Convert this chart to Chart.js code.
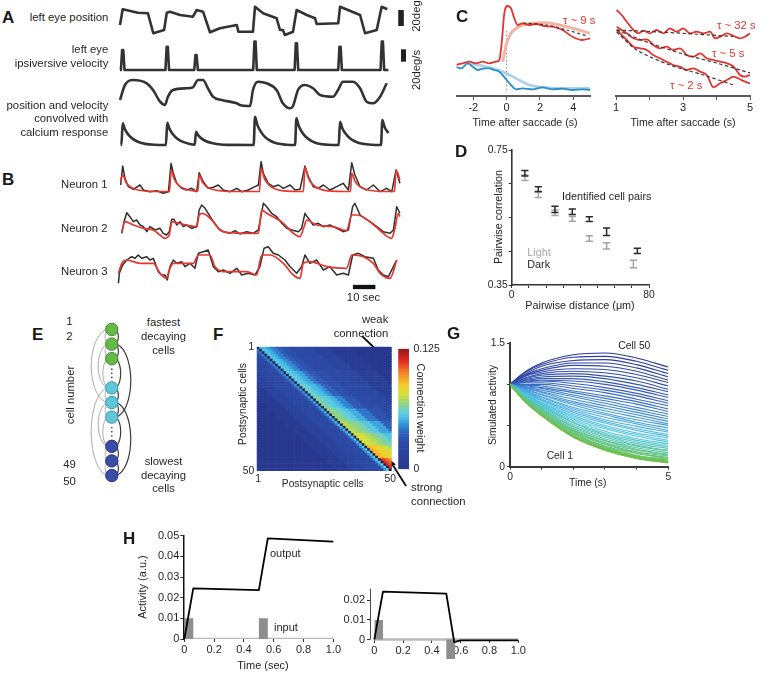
<!DOCTYPE html>
<html><head><meta charset="utf-8">
<script src="https://cdn.jsdelivr.net/npm/chart.js"></script>
<style>
html,body{margin:0;padding:0;background:#fff}
body{position:relative;width:772px;height:673px;overflow:hidden;font-family:"Liberation Sans",Arial,Helvetica,sans-serif;color:#231f20}
canvas{position:absolute;display:block}
.t{position:absolute;white-space:nowrap;line-height:1}
svg{position:absolute;left:0;top:0}
</style></head><body>
<svg width="772" height="673">
  <line x1="362" y1="336" x2="380.2" y2="353.5" stroke="#111" stroke-width="1.8"/>
  <polygon points="386,359 377.4,355.7 383,351.3" fill="#111"/>
  <line x1="406" y1="486" x2="393.3" y2="465.8" stroke="#111" stroke-width="1.8"/>
  <polygon points="389,459 395.8,464.2 390.7,467.4" fill="#111"/>
</svg>
<script>
// ---------------- DATA ----------------
// Panel A (time in s, eye position in deg, velocity in deg/s, convolved traces in a.u.)
const eyePos = [[0,18.75],[1.2,38.4],[8,34.1],[12.4,33.4],[14.8,8.4],[19.6,12.5],[20.8,34.1],[22.2,35.4],[26.7,31.25],[32.4,29.1],[34.1,37.5],[36.9,35.4],[40,9.6],[44.4,14.6],[51.9,18.75],[52.6,10.4],[59.1,10.4],[60,41.6],[63.6,33.4],[69.6,27.1],[71.1,12.5],[72.4,12.5],[73.3,6.25],[76.9,10.4],[78.5,37.5],[83,31.25],[86.7,27.1],[87.4,20],[97,20.9],[97.8,41.6],[106.7,31.25],[108.9,8.4],[114.1,12.5],[116.3,41.6],[118.8,38.4]];
const eyeVel = [[0,0],[0.4,0],[0.95,32.3],[1.45,32.3],[2,0],[20.2,0],[20.75,37.6],[21.25,37.6],[21.8,0],[33,0],[33.55,24.2],[34.05,24.2],[34.6,0],[59.2,0],[59.75,45.7],[60.25,45.7],[60.8,0],[77.6,0],[78.15,43],[78.65,43],[79.2,0],[97,0],[97.55,37.6],[98.05,37.6],[98.6,0],[115.8,0],[116.35,45.7],[116.85,45.7],[117.4,0],[119.3,0]];
const posConv = [[0,14],[2.2,29],[5.8,34],[11.9,30.7],[14.7,24],[17.8,12.3],[20,9],[21.3,17.3],[23.6,24],[29.6,25.7],[32.4,26.7],[34.7,34],[36.9,34],[39.1,25.7],[41.3,17.3],[45.2,14],[51.9,10.7],[53.3,9],[57.8,8],[59.1,24],[61.3,32.3],[65.2,30.7],[69.6,24],[72.4,10.7],[75.6,5.7],[76.9,8],[79.1,24],[82.2,29],[85.8,25.7],[88.9,19],[94.7,17.3],[96.9,24],[99.1,32.3],[103.6,32.3],[106.7,25.7],[109.6,12.3],[112.4,10.7],[115.6,17.3],[118.5,30.7]];
const velConv = [[0.3,0],[0.6,0],[1.2,21.7],[2.2,15.6],[3.7,10.4],[5.7,6.1],[8.2,3.0],[11.2,1.1],[15.2,0.2],[20.4,0],[21,22.3],[22,16.1],[23.5,10.7],[25.5,6.2],[28,3.1],[31,1.1],[33.2,0.4],[33.8,13.3],[34.8,9.6],[36.3,6.4],[38.3,3.7],[40.8,1.9],[43.8,0.7],[47.8,0.1],[59.4,0],[60,28.3],[61,20.4],[62.5,13.6],[64.5,7.9],[67,4],[70,1.4],[74,0.3],[77.8,0],[78.4,26.7],[79.4,19.2],[80.9,12.8],[82.9,7.5],[85.4,3.7],[88.4,1.3],[92.4,0.3],[97.2,0],[97.8,23.3],[98.8,16.8],[100.3,11.2],[102.3,6.5],[104.8,3.3],[107.8,1.2],[111.8,0.2],[116,0],[116.6,25],[117.6,18],[119.3,12]];
const posScaleBar = {t:124.9, from:17.5, len:20};   // 20 deg
const velScaleBar = {t:126, from:13.4, len:20};     // 20 deg/s
// Panel B (time in s, fluorescence a.u.)
const n1Data = [[0.3,13],[1.2,32],[2.2,19.7],[3.7,11.3],[5.9,8.7],[8.9,13],[10.4,8],[13.3,6.3],[16.3,7.3],[19.2,4.7],[21.5,6.3],[22.7,34.7],[23.7,24.7],[25.2,14.7],[27.4,9.7],[29.6,8],[31.9,9.7],[34.1,6.3],[35.2,25.3],[37,16.3],[39.2,9.7],[41.5,10.7],[43.7,13],[45.9,8],[48.9,6.3],[51.9,9.7],[54.1,6.3],[57,8],[60,11.3],[61.5,13],[62.7,36.3],[63.7,24.7],[65.9,14.7],[68.1,11.3],[70.4,13],[72.6,9.7],[75.6,13],[77.8,8],[80,8.7],[82.2,32],[83.7,21.3],[85.9,11.3],[88.1,9.7],[90.4,13],[93.3,8],[96.3,11.3],[99.2,14.7],[101.5,8],[103,35.3],[104.4,23],[106.7,11.3],[109.6,8],[112.6,13],[115.6,6.3],[118.5,9.7],[120.8,6.3],[122.7,28],[124.4,14.7]];
const n1Fit = [[0.2,17],[1.2,23],[2.7,15.5],[4.7,11],[7.2,8.5],[11,7],[16,6.5],[22,6.5],[22.7,28],[24.2,18.3],[26.2,12.5],[28.7,9.2],[32.7,7.2],[34.6,6.8],[35.2,23],[36.7,15.6],[38.7,11.1],[41.2,8.5],[45.2,7],[52,6.5],[62,6.5],[62.7,29.7],[64.2,19.3],[66.2,13],[68.7,9.3],[72.7,7.2],[81.5,6.5],[82.2,31],[83.7,20],[85.7,13.4],[88.2,9.4],[92.2,7.2],[102.4,6.5],[103,24.7],[104.5,16.5],[106.5,11.6],[109,8.7],[113,7],[122,6.5],[122.7,28],[124.4,18]];
const n2Data = [[0.8,10.7],[1.8,22.3],[3,31.3],[4.4,27.3],[5.9,22.3],[7.4,24],[8.9,19],[10.4,17.3],[11.9,12.3],[13.3,17.3],[15.6,14],[17.8,15.7],[19.2,10.7],[20.7,9],[21.9,12.3],[23,24.7],[24,24.7],[25.2,19],[26.7,22.3],[28.1,17.3],[29.6,19],[31.9,15.7],[34.1,17.3],[35.2,34],[36.3,39],[37.8,35.7],[39.2,30.7],[41.5,22.3],[43.7,15.7],[45.9,12.3],[48.9,10.7],[51.1,13.3],[53.3,10],[56.3,12.3],[59.2,10.7],[61.5,14],[63.7,40.7],[65.2,37.3],[67.4,30.7],[69.6,27.3],[71.9,20.7],[74.1,15.7],[76.3,14],[79.3,12.3],[80.7,15.7],[82.2,30.7],[83.7,25.7],[85.9,19],[88.1,20.7],[90.4,17.3],[93.3,19],[96.3,15.7],[99.2,12.3],[101.5,14],[103.4,37.3],[104.4,40.7],[106.7,29],[108.9,25.7],[111.1,22.3],[114.1,17.3],[117,12.3],[120,10.7],[121.5,14],[123,37.3],[124.4,30.7]];
const n2Fit = [[0.8,12.3],[2.2,22.3],[5.9,19],[10.4,15.7],[14.8,14],[17.8,9],[20,5.7],[21.9,9],[23,22.3],[25.2,21.3],[29.6,19],[34.1,17.3],[35.2,29],[36.7,30.7],[41.5,22.3],[44.4,14],[48.9,11.3],[56.3,10.7],[61.5,10.7],[63,34],[65.2,30.7],[72.6,20.7],[77,10.7],[80,7.3],[81.8,17.3],[83,24],[87.4,19],[94.8,17.3],[100.7,13.3],[103,29],[105.2,29],[111.1,22.3],[117,10.7],[120.7,5.7],[122.2,15.7],[123.7,30.7],[124.4,27.3]];
const n3Data = [[-0.7,6.7],[-0.3,16.7],[1.2,25],[3,30],[5.2,33.3],[6.7,31.7],[8.1,35],[9.6,31.7],[11.9,33.3],[13.3,30],[14.8,31.7],[17,18.3],[18.5,15],[20,15],[21,10],[22.2,23.3],[23.7,30],[25.2,26.7],[27.4,28.3],[28.9,23.3],[31.1,26.7],[33.3,21.7],[34.8,36.7],[37,38.3],[39.2,40],[41.5,23.3],[43.7,18.3],[45.9,20],[48.9,16.7],[51.9,21.7],[54.1,15],[57,16.7],[60,15],[62.2,23.3],[64,41.7],[65.9,43.3],[68.1,36.7],[70.4,35],[73.3,30],[75.6,23.3],[78.5,16.7],[80.7,23.3],[82.2,35],[84.4,26.7],[87.4,30],[90.4,20],[93.3,23.3],[96.3,15],[99.2,16.7],[101.5,15],[103.4,35],[105.9,36.7],[108.9,33.3],[112.6,31.7],[114.8,20],[117,15],[119.3,13.3],[121.5,23.3],[123,30]];
const n3Fit = [[-0.7,16.7],[0.8,26.7],[3,30],[8.9,26.7],[14.8,26.7],[17.8,16.7],[20.7,11.7],[21.9,20],[23.7,26.7],[32.6,26.7],[34.8,35],[40,35],[42.2,23.3],[47.4,18.3],[56.3,18.3],[60.7,15],[63,35],[66.7,35],[72.6,26.7],[77,15],[80,11.7],[81.5,26.7],[84.4,28.3],[91.9,23.3],[100.7,21.7],[103,35],[108.1,33.3],[112.6,26.7],[115.6,16.7],[120,11.7],[123,30]];
const timeScaleBar = {from:103.5, len:10, v:3};     // 10 sec
// Panel C (time after saccade in s, activity a.u.)
const cRed = [[-3.07,31],[-2.63,32.7],[-2.23,34.3],[-1.83,32.7],[-1.44,34.3],[-1.04,32.7],[-0.63,34.3],[-0.44,36],[-0.28,56],[-0.14,82.7],[0.06,90],[0.26,87.7],[0.46,77.7],[0.66,71],[0.96,72.7],[1.36,71],[1.76,72],[2.26,70],[2.75,69.3],[3.35,66],[3.95,59.3],[4.55,56],[5,57.7]];
const cPink = [[-0.24,34.3],[0,52.7],[0.26,62.7],[0.56,67.7],[0.96,71],[1.56,72.7],[2.36,73.3],[3.16,71],[3.95,67.7],[5,62.7]];
const cBlue = [[-3.07,29.3],[-2.73,27.7],[-2.33,32.7],[-2.03,29.3],[-1.73,26],[-1.33,27.7],[-1.04,27.7],[-0.74,26],[-0.44,24.3],[-0.08,17.7],[0.26,11],[0.56,6.7],[0.96,7.7],[1.56,6.7],[2.16,8.7],[2.75,6.7],[3.35,7.3],[3.95,6],[4.55,6.7],[5,6]];
const cLightBlue = [[-2.23,32.7],[-1.24,29.3],[-0.24,24.3],[0.56,17.7],[1.36,11],[2.16,8.7],[3.16,7.7],[5,7.7]];
const cFit9 = [[1,73],[2.4,71],[3.6,66],[4.85,60]];
const cSaccade = [[0,6],[0,66]];
const cTau32 = [[1.02,86],[1.17,81],[1.32,74.3],[1.52,66],[1.67,62.7],[1.82,65.3],[2.01,62.7],[2.21,66],[2.41,62.7],[2.61,67.7],[2.81,64.3],[3.01,67.7],[3.21,62.7],[3.41,64.3],[3.61,62.7],[3.81,64.3],[3.96,57.7],[4.11,59.3],[4.31,62.7],[4.51,60],[4.7,57.7],[4.85,59.3],[5,62.7]];
const cTau5 = [[1.02,69.3],[1.17,66],[1.32,62.7],[1.52,57.7],[1.72,56],[1.92,56.7],[2.11,51],[2.31,47.7],[2.51,49.3],[2.71,46],[2.91,47.7],[3.11,41],[3.31,39.3],[3.51,42.7],[3.71,37.7],[3.91,36],[4.11,34.3],[4.31,32.7],[4.51,29.3],[4.7,21],[4.85,19.3],[5,21]];
const cTau2 = [[1.02,66],[1.17,61],[1.32,56],[1.52,49.3],[1.72,47.7],[1.92,46],[2.11,41],[2.31,37.7],[2.51,34.3],[2.71,31],[2.91,29.3],[3.11,26],[3.31,27.7],[3.51,24.3],[3.71,21],[3.91,8.7],[4.11,12.7],[4.31,16],[4.51,19.3],[4.7,16.7],[4.85,14.3],[5,12.7]];
const cFit32 = [[1.02,66],[2,64.5],[3,62.7],[4.5,59.5]];
const cFit5 = [[1.02,66],[2,53],[3,42],[4,33],[5,23]];
const cFit2 = [[1.02,64],[1.62,46],[2.61,31],[3.61,21],[4.51,11]];
const cLeftTicks = [-2,0,2,4];
const cRightTicks = [1,2,3,4,5];
// Panel D (pairwise distance um, correlation)
const dDistDark = [7.7,15.5,25.2,35.3,45.2,55.3,73.2];
const dDark = [0.681,0.634,0.574,0.567,0.545,0.508,0.451];
const dDarkErr = [0.008,0.007,0.009,0.008,0.007,0.011,0.008];
const dDistLight = [7.7,15.5,25.2,35.3,45.2,55.3,70.9];
const dLight = [0.668,0.617,0.564,0.546,0.488,0.466,0.412];
const dLightErr = [0.008,0.008,0.008,0.007,0.008,0.009,0.011];
const dYTicks = [0.35,0.45,0.55,0.65,0.75];
const dXTicks = [0,10,20,30,40,50,60,70,80];
// Panel E (network diagram: node slots, arcs [from slot, to slot, bulge])
const eNodeSlot = [0,1,2,4,5,6,8,9,10];
const eNodeGroup = [0,0,0,1,1,1,2,2,2];
const eDotSlot = [3,7];
const eArcLeft = [[0,1,5],[1,2,5],[2,4,8],[4,5,5],[5,6,5],[6,8,8],[8,9,5],[9,10,5],[1,4,14],[5,8,14],[0,5,23],[4,10,23]];
const eArcRight = [[0,1,5],[1,2,5],[2,4,8],[4,5,5],[5,6,5],[6,8,8],[8,9,5],[9,10,5],[1,6,21],[5,10,21]];
// Panel F (connection weights as fraction of 0.125; rows in groups of 5)
const fUpperEdges = [1,2,3,4,6,8,11,15,20,26,34,99];
const fUpper = [
 [.44,.43,.41,.38,.34,.28,.24,.22,.20,.14,.04,0],
 [.45,.44,.42,.40,.36,.30,.25,.22,.21,.16,.06,0],
 [.47,.46,.44,.42,.39,.33,.27,.23,.21,.18,.08,0],
 [.49,.48,.46,.44,.42,.37,.30,.24,.22,.19,.10,.02],
 [.52,.51,.49,.47,.45,.41,.35,.27,.23,.20,.12,.03],
 [.55,.54,.53,.51,.48,.45,.40,.33,.25,.21,.14,.04],
 [.59,.58,.57,.55,.53,.50,.45,.39,.30,.22,.15,.05],
 [.64,.63,.62,.60,.58,.55,.50,.44,.35,.25,.15,.05],
 [.73,.72,.70,.68,.65,.61,.56,.50,.40,.30,.20,.10],
 [.90,.87,.83,.79,.74,.70,.65,.58,.50,.40,.30,.20]];
const fLowerEdges = [1,2,5,9,14,20,99];
const fLower = [
 [.34,.26,.20,.18,.12,.04,0],
 [.35,.27,.20,.18,.12,.04,0],
 [.36,.28,.20,.18,.13,.04,0],
 [.38,.29,.21,.19,.13,.05,0],
 [.39,.30,.21,.19,.13,.05,0],
 [.40,.31,.21,.19,.14,.05,0],
 [.42,.32,.22,.20,.14,.05,0],
 [.43,.33,.22,.20,.14,.06,0],
 [.45,.35,.22,.20,.15,.06,0],
 [.47,.36,.22,.20,.15,.06,0]];
const fMaxWeight = 0.125;
// Panel G (simulated activity of 50 cells)
const gTime = [0,0.5,1,2,3,4,5];
const gCells = [
[1,0.78,0.62,0.36,0.20,0.10,0.05],[1,0.78,0.62,0.36,0.20,0.10,0.05],[1,0.78,0.62,0.36,0.21,0.11,0.05],[1,0.78,0.63,0.37,0.21,0.11,0.06],[1,0.79,0.63,0.37,0.22,0.12,0.06],
[1,0.79,0.63,0.38,0.22,0.13,0.07],[1,0.79,0.64,0.39,0.23,0.13,0.08],[1,0.79,0.64,0.40,0.24,0.14,0.09],[1,0.80,0.65,0.41,0.25,0.16,0.10],[1,0.80,0.66,0.42,0.27,0.17,0.11],
[1,0.81,0.66,0.43,0.28,0.18,0.13],[1,0.81,0.67,0.44,0.29,0.20,0.14],[1,0.81,0.68,0.45,0.31,0.21,0.15],[1,0.82,0.69,0.46,0.32,0.23,0.17],[1,0.83,0.70,0.48,0.34,0.25,0.19],
[1,0.83,0.71,0.49,0.36,0.26,0.20],[1,0.84,0.72,0.51,0.38,0.28,0.22],[1,0.84,0.73,0.53,0.39,0.30,0.24],[1,0.85,0.74,0.54,0.41,0.32,0.26],[1,0.86,0.75,0.56,0.43,0.34,0.28],
[1,0.86,0.76,0.58,0.46,0.37,0.30],[1,0.87,0.77,0.60,0.48,0.39,0.32],[1,0.88,0.78,0.62,0.50,0.41,0.35],[1,0.89,0.80,0.64,0.53,0.44,0.37],[1,0.89,0.81,0.66,0.55,0.46,0.39],
[1,0.90,0.82,0.68,0.57,0.49,0.42],[1,0.91,0.84,0.70,0.60,0.52,0.44],[1,0.92,0.85,0.72,0.63,0.54,0.47],[1,0.93,0.87,0.75,0.65,0.57,0.50],[1,0.94,0.88,0.77,0.68,0.60,0.52],
[1,0.95,0.90,0.79,0.71,0.63,0.55],[1,0.95,0.91,0.82,0.74,0.66,0.58],[1,0.96,0.93,0.85,0.77,0.69,0.61],[1,0.97,0.95,0.87,0.80,0.72,0.64],[1,0.98,0.96,0.90,0.83,0.76,0.67],
[1,0.99,0.98,0.92,0.86,0.79,0.70],[1,1.00,1.00,0.95,0.90,0.82,0.74],[1,1.02,1.02,0.98,0.93,0.86,0.77],[1,1.03,1.04,1.01,0.96,0.89,0.80],[1,1.04,1.05,1.04,1.00,0.93,0.84],
[1,1.05,1.07,1.07,1.03,0.96,0.87],[1,1.06,1.09,1.10,1.07,1.00,0.91],[1,1.07,1.11,1.13,1.10,1.04,0.94],[1,1.08,1.13,1.16,1.14,1.08,0.98],[1,1.10,1.15,1.19,1.18,1.12,1.02],
[1,1.11,1.17,1.23,1.22,1.16,1.05],[1,1.12,1.19,1.26,1.26,1.20,1.09],[1,1.13,1.22,1.29,1.30,1.24,1.13],[1,1.15,1.24,1.33,1.34,1.28,1.17],[1,1.16,1.26,1.36,1.38,1.32,1.21]];
const gXTicks = [0,1,2,3,4,5];
const gYTicks = [0,0.5,1,1.5];
// Panel H (time in sec, activity a.u.)
const hOutLeft = [[0,0],[0.06,0.0245],[0.5,0.0237],[0.56,0.0487],[1.0,0.0471]];
const hOutRight = [[0,0],[0.06,0.0245],[0.5,0.0234],[0.555,-0.0013],[0.6,-0.0004],[1.0,-0.0004]];
const hInLeft = [[0,0],[0,0.01],[0.06,0.01],[0.06,0],[0.5,0],[0.5,0.01],[0.56,0.01],[0.56,0],[1.0,0]];
const hInRight = [[0,0],[0,0.01],[0.06,0.01],[0.06,0],[0.5,0],[0.5,-0.01],[0.56,-0.01],[0.56,0],[1.0,0]];
const hBaseline = [[0,0],[1.0,0]];
const hRightYAxisRange = [0, 0.026];
const hXTicks = [0,0.2,0.4,0.6,0.8,1.0];
const hYTicksLeft = [0,0.01,0.02,0.03,0.04,0.05];
const hYTicksRight = [0,0.01,0.02];

// ---------------- HELPERS ----------------
Chart.defaults.font.family = '"Liberation Sans", Arial, sans-serif';
Chart.defaults.color = '#231f20';
Chart.defaults.animation = false;
Chart.defaults.plugins.legend.display = false;
Chart.defaults.plugins.tooltip.enabled = false;
Chart.defaults.elements.point.radius = 0;
Chart.defaults.elements.line.borderJoinStyle = 'round';

const xy = a => a.map(p => ({x: p[0], y: p[1]}));
function mk(L, T, W, H, cfg) {
  const c = document.createElement('canvas');
  c.width = W; c.height = H;
  c.style.left = L + 'px'; c.style.top = T + 'px';
  c.style.width = W + 'px'; c.style.height = H + 'px';
  document.body.appendChild(c);
  cfg.options = Object.assign({responsive: false, maintainAspectRatio: false, devicePixelRatio: 1, animation: false, events: []}, cfg.options || {});
  return new Chart(c, cfg);
}
function ds(data, color, width, extra) {
  return Object.assign({data: xy(data), borderColor: color, borderWidth: width, pointRadius: 0, fill: false, tension: 0}, extra || {});
}
const smooth = {cubicInterpolationMode: 'monotone'};
function plainLine(L, T, W, H, xr, yr, datasets) {
  return mk(L, T, W, H, {type: 'line', data: {datasets}, options: {
    layout: {padding: 0},
    scales: {x: {type: 'linear', display: false, min: xr[0], max: xr[1]}, y: {type: 'linear', display: false, min: yr[0], max: yr[1]}}
  }});
}
function lin(o) {
  const labels = o.labels || {};
  return {
    type: 'linear', display: true, position: o.pos, min: o.min, max: o.max,
    afterBuildTicks: a => { a.ticks = o.ticks.map(v => ({value: v})); },
    afterFit: a => { if (a.isHorizontal()) a.height = o.size; else a.width = o.size; },
    grid: {display: o.tl > 0, drawOnChartArea: false, drawTicks: o.tl > 0, tickLength: o.tl, tickWidth: o.tw || 1, tickColor: o.tc || '#333', color: o.tc || '#333'},
    border: {display: (o.bw || 0) > 0, color: o.bc || '#333', width: o.bw || 1},
    ticks: {padding: o.pad, color: '#231f20', font: {size: o.fs}, maxRotation: 0, autoSkip: false,
      callback: v => (labels[v] !== undefined ? labels[v] : '')}
  };
}
function lerpStops(stops, f) {
  f = Math.max(0, Math.min(1, f));
  for (let i = 1; i < stops.length; i++) {
    if (f <= stops[i][0]) {
      const [f0, c0] = stops[i - 1], [f1, c1] = stops[i];
      const u = (f - f0) / (f1 - f0);
      return 'rgb(' + c0.map((c, k) => Math.round(c + (c1[k] - c) * u)).join(',') + ')';
    }
  }
  return 'rgb(' + stops[stops.length - 1][1].join(',') + ')';
}
function txt(s, x, y, o) {
  o = o || {};
  const d = document.createElement('div');
  d.className = 't'; d.textContent = s;
  d.style.fontSize = (o.fs || 11.3) + 'px';
  d.style.left = x + 'px'; d.style.top = y + 'px';
  const ax = o.a === 'r' ? '-100%' : o.a === 'c' ? '-50%' : '0';
  d.style.transform = o.rot ? `translate(-50%,-50%) rotate(${o.rot}deg)` : `translate(${ax},-50%)`;
  if (o.color) d.style.color = o.color;
  if (o.bold) d.style.fontWeight = 'bold';
  document.body.appendChild(d);
}

// ---------------- PANEL A ----------------
const XAB = [-2.222, 131.111];
const traceCol = '#333';
const vbar = b => [[b.t, b.from], [b.t, b.from + b.len]];
plainLine(115, 0, 300, 40, XAB, [0, 50], [
  ds(eyePos, traceCol, 2.6),
  ds(vbar(posScaleBar), '#222', 5.6, {borderCapStyle: 'butt'})
]);
plainLine(115, 36, 300, 38, XAB, [-6.45, 54.84], [
  ds(eyeVel, traceCol, 2.6),
  ds(vbar(velScaleBar), '#222', 5, {borderCapStyle: 'butt'})
]);
plainLine(115, 74, 300, 40, XAB, [0, 40], [ds(posConv, traceCol, 2.6, smooth)]);
plainLine(115, 112, 300, 38, XAB, [-5, 33], [ds(velConv, traceCol, 2.6, smooth)]);

// ---------------- PANEL B ----------------
const redB = '#e8352d', blackB = '#2e2e2e';
plainLine(115, 158, 300, 40, XAB, [0, 40], [ds(n1Fit, redB, 1.7, smooth), ds(n1Data, blackB, 1.5)]);
plainLine(115, 200, 300, 44, XAB, [0, 44], [ds(n2Fit, redB, 1.7, smooth), ds(n2Data, blackB, 1.5)]);
plainLine(115, 243, 300, 49, XAB, [-2, 47], [
  ds(n3Fit, redB, 1.7, smooth), ds(n3Data, blackB, 1.5),
  ds([[timeScaleBar.from, timeScaleBar.v], [timeScaleBar.from + timeScaleBar.len, timeScaleBar.v]], '#111', 4.3, {borderCapStyle: 'butt'})
]);

// ---------------- PANEL C ----------------
const cAxisX = (min, max, ticks, labels) => lin({pos: 'bottom', min, max, ticks, labels, size: 32, tl: 4, pad: 1.4, fs: 11, bw: 2, bc: '#5a5a5a', tc: '#5a5a5a'});
const redC = '#e2342e';
mk(446, 0, 154, 128, {type: 'line', data: {datasets: [
  ds(cFit9, '#3a3a3a', 1.2, {borderDash: [3, 2.5], tension: 0.3}),
  ds(cRed, redC, 1.8, smooth),
  ds(cPink, '#f2b5a4', 3, smooth),
  ds(cBlue, '#2a8ecb', 1.8, smooth),
  ds(cLightBlue, '#abd0e8', 2.6, smooth),
  ds(cSaccade, '#777', 1, {borderDash: [1.2, 2.4]})
]}, options: {
  layout: {padding: {left: 10.6, right: 10, top: 0, bottom: 0}},
  scales: {x: cAxisX(-3, 5, cLeftTicks, {'-2': '-2', 0: '0', 2: '2', 4: '4'}), y: {type: 'linear', display: false, min: 0, max: 96}}
}});
mk(606, 0, 160, 128, {type: 'line', data: {datasets: [
  ds(cFit32, '#3a3a3a', 1.2, {borderDash: [3.5, 2.5], tension: 0.3}),
  ds(cFit5, '#3a3a3a', 1.2, {borderDash: [3.5, 2.5], tension: 0.3}),
  ds(cFit2, '#3a3a3a', 1.2, {borderDash: [3.5, 2.5], tension: 0.3}),
  ds(cTau32, redC, 1.8, smooth),
  ds(cTau5, redC, 1.8, smooth),
  ds(cTau2, redC, 1.8, smooth)
]}, options: {
  layout: {padding: {left: 10, right: 16, top: 0, bottom: 0}},
  scales: {x: cAxisX(1, 5, cRightTicks, {1: '1', 3: '3', 5: '5'}), y: {type: 'linear', display: false, min: 0, max: 96}}
}});

// ---------------- PANEL D ----------------
function errData(xs, m, e) {
  const out = [];
  xs.forEach((x, i) => { out.push({x, y: m[i] - e[i]}, {x, y: m[i] + e[i]}, {x, y: null}); });
  return out;
}
const errDs = (xs, m, e, col) => ({data: errData(xs, m, e), showLine: true, spanGaps: false, borderColor: col, borderWidth: 1.5,
  pointStyle: 'line', pointRadius: 3.6, pointBorderColor: col, pointBorderWidth: 1.5, pointBackgroundColor: col});
mk(470, 138, 190, 180, {type: 'scatter', data: {datasets: [
  errDs(dDistDark, dDark, dDarkErr, '#2a2a2a'),
  errDs(dDistLight, dLight, dLightErr, '#a3a3a3')
]}, options: {
  layout: {padding: {left: 11.7, top: 12, right: 11, bottom: 0}},
  scales: {
    x: lin({pos: 'bottom', min: 0, max: 80, ticks: dXTicks, labels: {0: '0', 80: '80'}, size: 33, tl: 3, pad: 1, fs: 10.3, bw: 1.6, bc: '#333'}),
    y: lin({pos: 'left', min: 0.35, max: 0.75, ticks: dYTicks, labels: {0.35: '0.35', 0.75: '0.75'}, size: 30, tl: 3, pad: 1, fs: 10.3, bw: 1.6, bc: '#333'})
  }
}});

// ---------------- PANEL E ----------------
const eFill = ['#63ba47', '#5fc6d9', '#3b4ca7'];
const eEdge = ['#3f8a2f', '#3a97aa', '#263382'];
function arcPoints(a, b, bulge, side) {
  const pts = [];
  for (let i = 0; i <= 12; i++) {
    const th = Math.PI * i / 12;
    pts.push({x: side * (3.5 + bulge * Math.sin(th)), y: a + (b - a) * (1 - Math.cos(th)) / 2});
  }
  return pts;
}
const eDatasets = [{
  data: eNodeSlot.map(s => ({x: 0, y: s})), pointRadius: 6.2, pointBorderWidth: 1,
  pointBackgroundColor: eNodeGroup.map(g => eFill[g]), pointBorderColor: eNodeGroup.map(g => eEdge[g])
}, {
  data: eDotSlot.flatMap(s => [{x: 0, y: s - 0.28}, {x: 0, y: s}, {x: 0, y: s + 0.28}]),
  pointRadius: 0.9, pointBackgroundColor: '#555', pointBorderWidth: 0
}];
eArcRight.forEach(([a, b, w]) => eDatasets.push({data: arcPoints(a, b, w, 1), showLine: true, borderColor: '#3c3c3c', borderWidth: 1.2, pointRadius: 0, tension: 0.4}));
eArcLeft.forEach(([a, b, w]) => eDatasets.push({data: arcPoints(a, b, w, -1), showLine: true, borderColor: '#a8a8a8', borderWidth: 1, pointRadius: 0, tension: 0.4}));
mk(80, 310, 64, 185, {type: 'scatter', data: {datasets: eDatasets}, options: {
  layout: {padding: 0},
  scales: {x: {type: 'linear', display: false, min: -31.7, max: 32.3}, y: {type: 'linear', display: false, min: -0.84, max: 10.84, reverse: true}}
}});

// ---------------- PANEL F ----------------
const hmStops = [[0,[40,56,142]],[0.22,[44,74,165]],[0.30,[48,98,188]],[0.36,[52,140,214]],[0.42,[70,188,230]],[0.47,[100,206,225]],[0.55,[150,214,120]],[0.62,[214,226,60]],[0.70,[248,200,40]],[0.80,[242,130,40]],[0.90,[226,40,36]],[1,[140,26,26]]];
const diagColor = 'rgb(26,32,78)';
function bucketOf(edges, off) { for (let i = 0; i < edges.length; i++) if (off <= edges[i]) return i; return edges.length - 1; }
function cellFraction(r, c) {
  const g = Math.floor((r - 1) / 5), off = c - r;
  if (off === 0) return null;
  return off > 0 ? fUpper[g][bucketOf(fUpperEdges, off)] : fLower[g][bucketOf(fLowerEdges, -off)];
}
const fCols = Array.from({length: 50}, (_, i) => String(i + 1));
const fDatasets = [];
for (let k = 0; k < 50; k++) {
  const r = 50 - k;
  fDatasets.push({data: fCols.map(() => 1), backgroundColor: fCols.map((_, ci) => {
    const f = cellFraction(r, ci + 1);
    return f === null ? diagColor : lerpStops(hmStops, f);
  }), borderWidth: 0, barPercentage: 1, categoryPercentage: 1});
}
mk(236, 338, 168, 150, {type: 'bar', data: {labels: fCols, datasets: fDatasets}, options: {
  layout: {padding: {left: 2.7, top: 7.7, right: 12.3, bottom: 0}},
  scales: {
    x: {type: 'category', stacked: true, afterFit: a => { a.height = 17; }, grid: {display: false, drawTicks: false}, border: {display: false},
        ticks: {padding: 1.5, autoSkip: false, maxRotation: 0, font: {size: 10.3}, color: '#231f20', callback: (v, i) => (i === 0 ? '1' : i === 49 ? '50' : '')}},
    y: Object.assign(lin({pos: 'left', min: 0, max: 50, ticks: [0, 50], labels: {50: '1', 0: '50'}, size: 18, tl: 0, pad: 2.5, fs: 10.3, bw: 0}), {stacked: true})
  }
}});
// colour bar
const cbN = 64, cbDatasets = [];
for (let i = 0; i < cbN; i++) cbDatasets.push({data: [fMaxWeight / cbN], backgroundColor: lerpStops(hmStops, (i + 0.5) / cbN), borderWidth: 0, barPercentage: 1, categoryPercentage: 1});
mk(392, 338, 60, 142, {type: 'bar', data: {labels: ['w'], datasets: cbDatasets}, options: {
  layout: {padding: {left: 6.3, top: 7.7, right: 0, bottom: 9}},
  scales: {
    x: {type: 'category', stacked: true, display: false},
    y: Object.assign(lin({pos: 'right', min: 0, max: fMaxWeight, ticks: [0, fMaxWeight], labels: {0: '0', 0.125: '0.125'}, size: 43, tl: 0, pad: 4.5, fs: 10.5, bw: 0}), {stacked: true})
  }
}});

// ---------------- PANEL G ----------------
const gStops = [[0,[112,190,68]],[0.2,[100,196,130]],[0.42,[78,196,228]],[0.6,[66,150,215]],[0.75,[55,100,190]],[1,[45,58,152]]];
const gDatasets = gCells.map((vals, k) => ds(gTime.map((t, i) => [t, vals[i]]), lerpStops(gStops, k / 49), 1.1, smooth));
mk(475, 335, 205, 155, {type: 'line', data: {datasets: gDatasets}, options: {
  layout: {padding: {left: 5, top: 7.7, right: 11.7, bottom: 0}},
  scales: {
    x: lin({pos: 'bottom', min: 0, max: 5, ticks: gXTicks, labels: {0: '0', 5: '5'}, size: 23.3, tl: 3, pad: 1, fs: 10.3, bw: 2, bc: '#3a3a3a', tc: '#3a3a3a'}),
    y: lin({pos: 'left', min: 0, max: 1.5, ticks: gYTicks, labels: {0: '0', 1.5: '1.5'}, size: 30, tl: 3, pad: 2, fs: 10.3, bw: 2, bc: '#3a3a3a', tc: '#3a3a3a'})
  }
}});

// ---------------- PANEL H ----------------
const hLabelsX = {0: '0', 0.2: '0.2', 0.4: '0.4', 0.6: '0.6', 0.8: '0.8', 1: '1.0'};
const inDs = d => ds(d, 'rgba(0,0,0,0)', 0, {fill: 'origin', backgroundColor: '#8e8e8e'});
const baseDs = () => ds(hBaseline, '#bababa', 2.6, {borderCapStyle: 'butt'});
mk(130, 528, 219, 145, {type: 'line', data: {datasets: [ds(hOutLeft, '#000', 1.8), inDs(hInLeft), baseDs()]}, options: {
  layout: {padding: {left: 17.3, top: 7.7, right: 14, bottom: 0}},
  scales: {
    x: lin({pos: 'bottom', min: -0.007, max: 1.011, ticks: hXTicks, labels: hLabelsX, size: 34, tl: 3, pad: 1.4, fs: 11, bw: 0, tc: '#333'}),
    y: lin({pos: 'left', min: 0, max: 0.05, ticks: hYTicksLeft, labels: {0: '0', 0.01: '0.01', 0.02: '0.02', 0.03: '0.03', 0.04: '0.04', 0.05: '0.05'}, size: 36, tl: 3, pad: 1, fs: 11, bw: 1.5, bc: '#111', tc: '#333'})
  }
}});
// right H: x axis sits at y = 0 so the negative input pulse can extend below it
const hRightX = lin({pos: {y: 0}, min: -0.03, max: 1.0, ticks: hXTicks, labels: hLabelsX, size: 34, tl: 3, pad: 1.4, fs: 11, bw: 0, tc: '#333'});
mk(330, 580, 203, 93, {type: 'line', data: {datasets: [
  ds(hOutRight, '#000', 1.8),
  ds(hRightYAxisRange.map(v => [-0.03, v]), '#111', 1.5, {borderCapStyle: 'butt'}),
  inDs(hInRight), baseDs()
]}, options: {
  layout: {padding: {left: 4, top: 6.7, right: 14.7, bottom: 12.9}},
  scales: {
    x: hRightX,
    y: lin({pos: 'left', min: -0.0105, max: 0.026, ticks: hYTicksRight, labels: {0: '0', 0.01: '0.01', 0.02: '0.02'}, size: 36, tl: 3, pad: 2, fs: 11, bw: 0, tc: '#333'})
  }
}});

// ---------------- TEXT ----------------
const L = {fs: 17, bold: true, color: '#1a1a1a'};
txt('A', 2, 17, L); txt('B', 2, 179, L); txt('C', 456, 16, L); txt('D', 455, 151, L);
txt('E', 32, 334, L); txt('F', 213, 334, L); txt('G', 447, 333, L); txt('H', 123, 537.5, L);
txt('left eye position', 108.3, 18.3, {a: 'r'});
txt('left eye', 108.3, 50, {a: 'r'});
txt('ipsiversive velocity', 108.3, 64, {a: 'r'});
txt('position and velocity', 108.3, 105.5, {a: 'r'});
txt('convolved with', 108.3, 119, {a: 'r'});
txt('calcium response', 108.3, 132.5, {a: 'r'});
txt('20deg', 416.5, 16, {rot: -90});
txt('20deg/s', 416.5, 70, {rot: -90});
txt('Neuron 1', 107.5, 185, {a: 'r'});
txt('Neuron 2', 107.5, 229.3, {a: 'r'});
txt('Neuron 3', 107.5, 271.7, {a: 'r'});
txt('10 sec', 363.5, 297.5, {a: 'c'});
const tauC = {color: '#e2342e'};
txt('τ ~ 9 s', 563, 21, tauC);
txt('τ ~ 32 s', 717, 26, tauC);
txt('τ ~ 5 s', 712, 54, tauC);
txt('τ ~ 2 s', 670, 86, tauC);
txt('Time after saccade (s)', 525, 122, {a: 'c', fs: 10.6});
txt('Time after saccade (s)', 683, 122, {a: 'c', fs: 10.6});
txt('Pairwise correlation', 498.3, 217, {rot: -90, fs: 10.8});
txt('Pairwise distance (μm)', 580, 305, {a: 'c', fs: 10.8});
txt('Identified cell pairs', 562, 196, {fs: 10.8});
txt('Light', 527.3, 252, {fs: 10.8, color: '#a8a8a8'});
txt('Dark', 527.3, 264, {fs: 10.8});
txt('1', 69.5, 321.7, {a: 'c'}); txt('2', 69.5, 336.7, {a: 'c'});
txt('49', 69.5, 465, {a: 'c'}); txt('50', 69.5, 481.7, {a: 'c'});
txt('cell number', 71, 395, {rot: -90});
txt('fastest', 163.5, 322.5, {a: 'c'}); txt('decaying', 163.5, 336.5, {a: 'c'}); txt('cells', 163.5, 350.5, {a: 'c'});
txt('slowest', 163.5, 461.5, {a: 'c'}); txt('decaying', 163.5, 475.5, {a: 'c'}); txt('cells', 163.5, 489, {a: 'c'});
txt('Postsynaptic cells', 243.3, 404, {rot: -90, fs: 10.3});
txt('Postsynaptic cells', 322.7, 484.3, {a: 'c', fs: 10.3});
txt('weak', 388.3, 320, {a: 'r'}); txt('connection', 388.3, 333.5, {a: 'r'});
txt('strong', 411, 488.3, {}); txt('connection', 411, 501.7, {});
txt('Connection weight', 420.5, 408, {rot: 90, fs: 10.8});
txt('Simulated activity', 493.3, 405, {rot: -90, fs: 10.3});
txt('Time (s)', 587.7, 482.7, {a: 'c', fs: 10.3});
txt('Cell 50', 618.3, 345.7, {fs: 10.3});
txt('Cell 1', 546.7, 456, {fs: 10.3});
txt('Activity (a.u.)', 141.7, 587, {rot: -90, fs: 11});
txt('Time (sec)', 263, 665, {a: 'c', fs: 11});
txt('output', 270, 553.3, {fs: 11});
txt('input', 274, 627.3, {fs: 11});
</script>
</body></html>
